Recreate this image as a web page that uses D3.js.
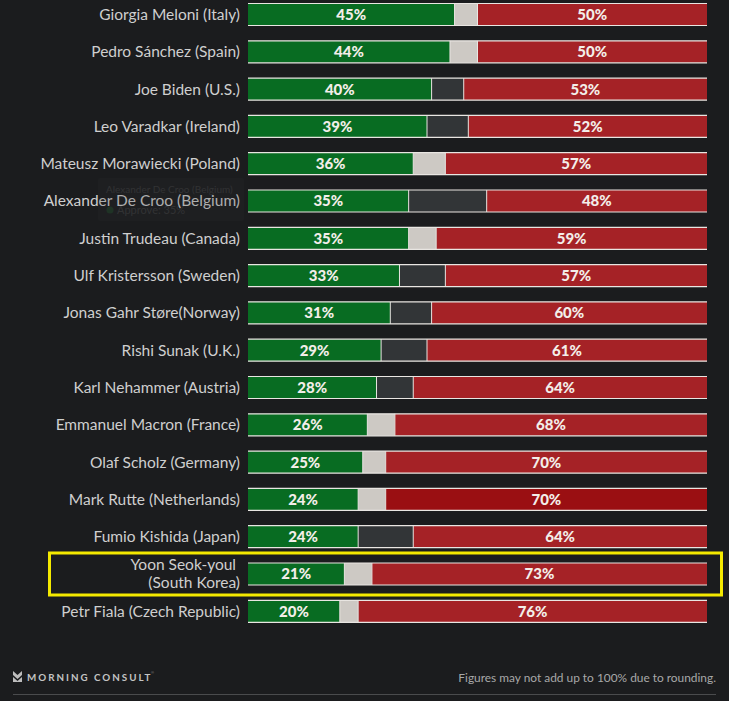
<!DOCTYPE html>
<html>
<head>
<meta charset="utf-8">
<script src="https://cdn.jsdelivr.net/npm/d3@7"></script>
<style>
  html, body { margin: 0; padding: 0; background: #1b1c1e; }
  svg { display: block; }
</style>
</head>
<body>
<svg id="chart" width="729" height="701"></svg>
<script>
// ---- data ----
const leaders = [
  "Giorgia Meloni (Italy)",
  "Pedro Sánchez (Spain)",
  "Joe Biden (U.S.)",
  "Leo Varadkar (Ireland)",
  "Mateusz Morawiecki (Poland)",
  "Alexander De Croo (Belgium)",
  "Justin Trudeau (Canada)",
  "Ulf Kristersson (Sweden)",
  "Jonas Gahr Støre(Norway)",
  "Rishi Sunak (U.K.)",
  "Karl Nehammer (Austria)",
  "Emmanuel Macron (France)",
  "Olaf Scholz (Germany)",
  "Mark Rutte (Netherlands)",
  "Fumio Kishida (Japan)",
  "Yoon Seok-youl (South Korea)",
  "Petr Fiala (Czech Republic)"
];
const approve    = [45, 44, 40, 39, 36, 35, 35, 33, 31, 29, 28, 26, 25, 24, 24, 21, 20];
const disapprove = [50, 50, 53, 52, 57, 48, 59, 57, 60, 61, 64, 68, 70, 70, 64, 73, 76];
// middle segment group as shown in the picture ("light" / "dark")
const middleGroup = ["light","light","dark","dark","light","dark","light","dark","dark","dark","dark","light","light","light","dark","light","light"];
const highlighted = "Yoon Seok-youl (South Korea)";
const hovered = "Mark Rutte (Netherlands)";
const footnote = "Figures may not add up to 100% due to rounding.";
const brand = "MORNING CONSULT";

// ---- setup ----
const svg = d3.select("#chart");
const colors = {
  approve: "#086c22",
  disapprove: "#a52226",
  disapproveHover: "#9a0f12",
  light: "#cdc9c4",
  dark: "#323537",
  sep: "#e9e6e2",
  label: "#cfcfcf",
  value: "#f3eee9"
};

const rows = leaders.map((name, i) => ({
  name, approve: approve[i], disapprove: disapprove[i],
  group: middleGroup[i]
}));

const x = d3.scaleLinear().domain([0, 100]).range([248, 707]);
const y = d3.scaleBand().domain(leaders).range([3.5, 622.3]).paddingInner(0.41).paddingOuter(0);
const bw = y.bandwidth();

// highlight box
const hy = y(highlighted);
svg.append("rect")
  .attr("x", 49.5).attr("y", hy - 10)
  .attr("width", 672).attr("height", bw + 20)
  .attr("fill", "none").attr("stroke", "#f4e900").attr("stroke-width", 3);

const g = svg.append("g");
const row = g.selectAll("g.row").data(rows).join("g").attr("class", "row")
  .attr("transform", d => `translate(0,${y(d.name)})`);

// approve segment
row.append("rect")
  .attr("x", x(0)).attr("y", 0)
  .attr("width", d => x(d.approve) - x(0)).attr("height", bw)
  .attr("fill", colors.approve);
// middle segment
row.append("rect")
  .attr("x", d => x(d.approve)).attr("y", 0)
  .attr("width", d => x(100 - d.disapprove) - x(d.approve)).attr("height", bw)
  .attr("fill", d => colors[d.group]);
// disapprove segment
row.append("rect")
  .attr("x", d => x(100 - d.disapprove)).attr("y", 0)
  .attr("width", d => x(100) - x(100 - d.disapprove)).attr("height", bw)
  .attr("fill", d => d.name === hovered ? colors.disapproveHover : colors.disapprove);

// separators
row.each(function(d) {
  const s = d3.select(this);
  [0, bw].forEach(yy => s.append("line")
    .attr("x1", x(0)).attr("x2", x(100))
    .attr("y1", yy).attr("y2", yy)
    .attr("stroke", colors.sep).attr("stroke-width", 1.2));
  [d.approve, 100 - d.disapprove].forEach(v => s.append("line")
    .attr("x1", x(v)).attr("x2", x(v))
    .attr("y1", 0).attr("y2", bw)
    .attr("stroke", colors.sep).attr("stroke-width", 1));
});

// value labels
const valFont = "'Lato', 'Open Sans', sans-serif";
row.append("text")
  .attr("x", d => (x(0) + x(d.approve)) / 2).attr("y", bw / 2 + 5.5)
  .attr("text-anchor", "middle").attr("fill", colors.value)
  .attr("font-family", valFont).attr("font-weight", 900).attr("font-size", 15)
  .text(d => d.approve + "%");
row.append("text")
  .attr("x", d => (x(100 - d.disapprove) + x(100)) / 2).attr("y", bw / 2 + 5.5)
  .attr("text-anchor", "middle").attr("fill", colors.value)
  .attr("font-family", valFont).attr("font-weight", 900).attr("font-size", 15)
  .text(d => d.disapprove + "%");

// name labels
const nameFont = "'Lato', 'Open Sans', sans-serif";
row.each(function(d) {
  const t = d3.select(this).append("text")
    .attr("x", 240).attr("text-anchor", "end")
    .attr("fill", colors.label)
    .attr("font-family", nameFont).attr("font-size", 15.5);
  if (d.name === highlighted) {
    t.append("tspan").attr("x", 240).attr("y", bw / 2 - 4).text("Yoon Seok-youl\u00a0");
    t.append("tspan").attr("x", 240).attr("y", bw / 2 + 14).text("(South Korea)");
  } else {
    t.attr("y", bw / 2 + 5.5).text(d.name);
  }
});

// faded tooltip remnant
const tip = svg.append("g").attr("opacity", 0.2);
tip.append("rect").attr("x", 98).attr("y", 178).attr("width", 146).attr("height", 43)
  .attr("fill", "#2c2d30").attr("rx", 2);
tip.append("text").attr("x", 106).attr("y", 193).attr("fill", "#8a8a8a")
  .attr("font-family", nameFont).attr("font-size", 10).text("Alexander De Croo (Belgium)");
tip.append("circle").attr("cx", 110).attr("cy", 210).attr("r", 3.5).attr("fill", "#2f8f45");
tip.append("text").attr("x", 117).attr("y", 214).attr("fill", "#8a8a8a")
  .attr("font-family", nameFont).attr("font-size", 11).text("Approve: 35%");

// footer
const logo = svg.append("g").attr("transform", "translate(13,671)");
logo.append("path")
  .attr("d", "M0,0 L4.5,4 L9,0 L9,4 L4.5,8 L0,4 Z M0,6 L4.5,10 L9,6 L9,11 L0,11 Z")
  .attr("fill", "#bdbdbd");
svg.append("text").attr("x", 27).attr("y", 681)
  .attr("fill", "#c4c4c4").attr("font-family", "'Lato', sans-serif")
  .attr("font-weight", 700).attr("font-size", 9.8).attr("letter-spacing", 2)
  .text(brand);
svg.append("text").attr("x", 151).attr("y", 674).attr("fill", "#888")
  .attr("font-family", "sans-serif").attr("font-size", 4).text("®");
svg.append("text").attr("x", 716).attr("y", 682).attr("text-anchor", "end")
  .attr("fill", "#a8a8a8").attr("font-family", "'Lato', sans-serif")
  .attr("font-size", 11.9).text(footnote);
svg.append("line").attr("x1", 13).attr("x2", 716).attr("y1", 694.5).attr("y2", 694.5)
  .attr("stroke", "#4a4b4d").attr("stroke-width", 1);
</script>
</body>
</html>
